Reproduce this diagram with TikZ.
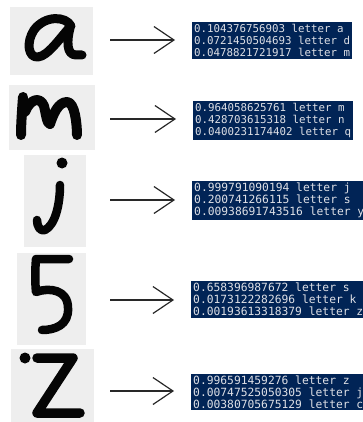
\documentclass[tikz,border=0pt]{standalone}
\usepackage{fontspec}
\newfontfamily\consolefont{DejaVu Sans Mono}
\usepackage{tikz}
\usetikzlibrary{arrows.meta,positioning,calc}
\definecolor{psblue}{RGB}{1,36,86}
\definecolor{pstext}{RGB}{222,224,230}
\definecolor{scangray}{RGB}{238,238,238}
\definecolor{ink}{RGB}{5,5,5}
\definecolor{arrowgray}{RGB}{40,40,40}

\tikzset{
  console/.style={fill=psblue, text=pstext, anchor=west, align=left,
                  inner xsep=2pt, inner ysep=2pt,
                  font=\consolefont\fontsize{10.8}{12}\selectfont},
  console wide/.style={console, font=\consolefont\fontsize{11.3}{12}\selectfont},
  pen/.style={draw=ink, line width=9pt, line cap=round, line join=round},
  arr/.style={arrowgray, line width=1.2pt,
              -{Straight Barb[length=20pt,width=27pt]}, shorten >=17pt}
}

\begin{document}
\begin{tikzpicture}[x=1pt, y=-1pt]
  \useasboundingbox (0,0) rectangle (363,422);
  \clip (0,0) rectangle (363,422);

  % scanned glyphs
  \foreach \n/\xa/\ya/\xb/\yb in {a/10/7/93/75, m/9/85/95/150, j/24/155/86/247,
                                  5/17/253/86/345, z/11/349/94/422}{
    \fill[scangray] (\xa,\ya) rectangle (\xb,\yb);
  }
  \draw[pen] (71,26) .. controls (66,16) and (45,15) .. (34,30)
    .. controls (26,42) and (28,58) .. (38,57)
    .. controls (48,56) and (60,38) .. (70,27);
  \draw[pen] (70,28) .. controls (67,40) and (66,55) .. (76,55) -- (82,55);

  \draw[pen, line width=10pt] (23,97) .. controls (22,110) and (21,125) .. (21,135);
  \draw[pen, line width=10pt] (25,112) .. controls (30,99) and (40,96) .. (44,106)
    .. controls (46,114) and (47,124) .. (50,124)
    .. controls (53,115) and (58,102) .. (67,102)
    .. controls (75,102) and (77,125) .. (77,135);

  \fill[ink] (62,163) circle (5.5);
  \draw[pen, line width=8.5pt] (60,185) .. controls (60,205) and (55,225) .. (45,230)
    .. controls (40,232) and (37,226) .. (37,220);

  \draw[pen, line width=8.5pt] (69,259) -- (36,259)
    .. controls (35,270) and (35,282) .. (36,292)
    .. controls (50,287) and (68,290) .. (68,308)
    .. controls (69,325) and (55,330) .. (42,330);

  \fill[ink] (25,358) circle (5.5);
  \draw[pen, line width=9.5pt] (37,358) -- (73,358) -- (37,413) -- (80,413);

  % classifier output
  \node[console] (out-a) at (192,40.5) {0.104376756903 letter a\\0.0721450504693 letter d\\0.0478821721917 letter m};
  \node[console] (out-m) at (193,120.5) {0.964058625761 letter m\\0.428703615318 letter n\\0.0400231174402 letter q};
  \node[console wide] (out-j) at (192,200.5) {0.999791090194 letter j\\0.200741266115 letter s\\0.00938691743516 letter y};
  \node[console wide] (out-5) at (191,299.5) {0.658396987672 letter s\\0.0173122282696 letter k\\0.00193613318379 letter z};
  \node[console wide] (out-z) at (191,392) {0.996591459276 letter z\\0.00747525050305 letter j\\0.00380705675129 letter c};

  \foreach \n/\y in {a/40, m/119, j/200, 5/300, z/391}{
    \coordinate (from-\n) at (110,\y);
    \draw[arr] (from-\n) -- (from-\n -| out-\n.west);
  }
\end{tikzpicture}
\end{document}
